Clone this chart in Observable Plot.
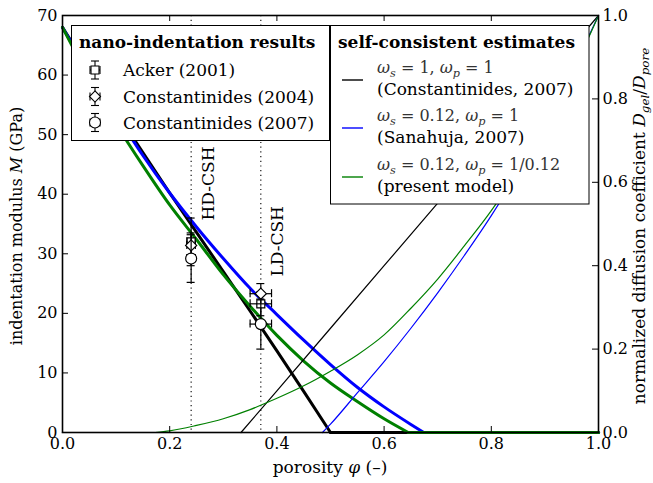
<!DOCTYPE html>
<html><head><meta charset="utf-8">
<script src="https://cdn.jsdelivr.net/npm/d3@7"></script>
<script src="https://cdn.jsdelivr.net/npm/@observablehq/plot@0.6"></script>
<style>body{margin:0;background:#fff} svg{display:block}</style>
</head><body><div id="chart"></div>
<script>
// ---- data ----
// thick curves: indentation modulus M (GPa), left axis
const phiBlackM = [0,0.05,0.1,0.15,0.2,0.25,0.3,0.35,0.4,0.45,0.5,1.0];
const mBlack    = [68,60.8,53.8,47,40.2,33.6,27,20.4,13.7,6.9,0,0];
const phiBlueM  = [0,0.05,0.1,0.15,0.2,0.25,0.3,0.35,0.4,0.45,0.5,0.55,0.6,0.65,0.674,1.0];
const mBlue     = [68,60.5,53.5,46.5,40.2,34.5,29.2,24.2,19.8,15.5,11.4,7.6,4.3,1.35,0,0];
const phiGreenM = [0,0.05,0.1,0.15,0.2,0.25,0.3,0.35,0.4,0.45,0.5,0.55,0.6,0.645,1.0];
const mGreen    = [68,59.5,51.8,44.8,38.2,32.4,26.5,21.2,16.3,12.0,8.3,5.2,2.3,0,0];
// thin curves: normalized diffusion coefficient, right axis (0..1)
const phiBlackD = [0,0.333,0.4,0.5,0.6,0.7,0.8,0.9,1.0];
const dBlack    = [0,0,0.1,0.25,0.4,0.55,0.7,0.85,1.0];
const phiBlueD  = [0,0.485,0.5,0.55,0.6,0.65,0.7,0.75,0.8,0.85,0.9,0.95,1.0];
const dBlue     = [0,0,0.02,0.095,0.17,0.25,0.335,0.425,0.52,0.625,0.74,0.865,1.0];
const phiGreenD = [0,0.173,0.2,0.25,0.3,0.35,0.4,0.45,0.5,0.55,0.6,0.65,0.7,0.75,0.8,0.85,0.9,0.95,1.0];
const dGreen    = [0,0,0.004,0.017,0.033,0.055,0.082,0.112,0.147,0.186,0.234,0.298,0.368,0.448,0.532,0.628,0.738,0.86,1.0];
// nano-indentation results (HD, LD)
const studies   = ["Acker (2001)","Constantinides (2004)","Constantinides (2007)"];
const ptPhi     = [0.24, 0.37];
const ptErrPhi  = [0.008, 0.02];
const mAcker    = [32.0, 21.6]; const eAcker = [4.0, 2.0];
const mC2004    = [31.4, 23.3]; const eC2004 = [2.1, 1.7];
const mC2007    = [29.2, 18.2]; const eC2007 = [4.0, 4.2];
// phase markers
const cshPhi    = [0.24, 0.37];
const cshLabel  = ["HD-CSH","LD-CSH"];
const cshLabelM = [41.8, 32.1];
// ticks
const xTicks  = [0,0.2,0.4,0.6,0.8,1.0];
const yTicks  = [0,10,20,30,40,50,60,70];
const y2Ticks = [0,0.2,0.4,0.6,0.8,1.0];
const Y2 = 70; // right axis 0..1 spans left axis 0..70

const FONT = "'DejaVu Serif', 'Liberation Serif', serif";
const symbolsOf = ["square","diamond2","circle"];
const rOf = [4.5,5,5.5];
const ptSets = [[mAcker,eAcker],[mC2004,eC2004],[mC2007,eC2007]];

function ptMarks(k){
  const [m,e] = ptSets[k];
  const rows = ptPhi.map((p,i)=>({phi:p, M:m[i], e:e[i], ep:ptErrPhi[i]}));
  const s = {stroke:"black", strokeWidth:1.2};
  return [
    Plot.ruleX(rows,{x:"phi", y1:d=>d.M-d.e, y2:d=>d.M+d.e, ...s}),
    Plot.ruleY(rows,{y:d=>d.M-d.e, x1:"phi", x2:"phi", insetLeft:-4, insetRight:-4, ...s}),
    Plot.ruleY(rows,{y:d=>d.M+d.e, x1:"phi", x2:"phi", insetLeft:-4, insetRight:-4, ...s}),
    Plot.ruleY(rows,{y:"M", x1:d=>d.phi-d.ep, x2:d=>d.phi+d.ep, ...s}),
    Plot.ruleX(rows,{x:d=>d.phi-d.ep, y1:"M", y2:"M", insetTop:-4, insetBottom:-4, ...s}),
    Plot.ruleX(rows,{x:d=>d.phi+d.ep, y1:"M", y2:"M", insetTop:-4, insetBottom:-4, ...s}),
    Plot.dot(rows,{x:"phi", y:"M", symbol:()=>symbolsOf[k], r:rOf[k], fill:"white", ...s})
  ];
}
// split a curve into its smooth part and its flat (zero) part
function curveMarks(px, py, color, width, descending, smooth){
  const cut = descending ? py.indexOf(0) : py.lastIndexOf(0);
  const a = descending ? [0, cut+1] : [cut, px.length];
  const b = descending ? [cut, px.length] : [0, cut+1];
  return [
    Plot.line(px.slice(b[0],b[1]),{x:px.slice(b[0],b[1]), y:py.slice(b[0],b[1]), stroke:color, strokeWidth:width}),
    Plot.line(px.slice(a[0],a[1]),{x:px.slice(a[0],a[1]), y:py.slice(a[0],a[1]), stroke:color, strokeWidth:width, curve: smooth ? "monotone-x" : "linear"})
  ];
}

const chart = Plot.plot({
  width:653, height:483,
  marginLeft:62, marginRight:55, marginTop:15, marginBottom:51,
  x:{domain:[0,1]}, y:{domain:[0,70]},
  symbol:{type:"identity"},
  style:{fontFamily:FONT, fontSize:"16px", color:"black", background:"white"},
  marks:[
    Plot.ruleX(cshPhi,{x:d=>d, stroke:"black", strokeWidth:1.1, strokeDasharray:"1.2,3.5"}),
    ...curveMarks(phiBlackM, mBlack, "black", 3, true, false),
    ...curveMarks(phiBlueM, mBlue, "#0000ff", 3, true, true),
    ...curveMarks(phiGreenM, mGreen, "#008000", 3, true, true),
    ...curveMarks(phiBlackD, dBlack.map(d=>d*Y2), "black", 1.2, false, false),
    ...curveMarks(phiBlueD, dBlue.map(d=>d*Y2), "#0000ff", 1.2, false, true),
    ...curveMarks(phiGreenD, dGreen.map(d=>d*Y2), "#008000", 1.2, false, true),
    Plot.text(cshLabel,{x:cshPhi, y:cshLabelM, text:cshLabel, rotate:-90, dx:17, fontSize:17, textAnchor:"middle", lineAnchor:"middle", fill:"black"}),
    ...ptMarks(0), ...ptMarks(1), ...ptMarks(2),
    // inward ticks
    Plot.ruleY(yTicks.slice(1,-1),{y:d=>d, x1:0, x2:0, insetRight:-6, stroke:"black"}),
    Plot.ruleY(y2Ticks.slice(1,-1).map(d=>d*Y2),{y:d=>d, x1:1, x2:1, insetLeft:-6, stroke:"black"}),
    Plot.ruleX(xTicks.slice(1,-1),{x:d=>d, y1:0, y2:0, insetTop:-6, stroke:"black"}),
    Plot.ruleX(xTicks.slice(1,-1),{x:d=>d, y1:70, y2:70, insetBottom:-6, stroke:"black"}),
    Plot.axisX({ticks:xTicks, tickFormat:d=>d.toFixed(1), tickSize:0, tickPadding:5, fontSize:16, label:null}),
    Plot.axisY({anchor:"left", ticks:yTicks, tickFormat:d=>String(d), tickSize:0, tickPadding:5, fontSize:16, label:null}),
    Plot.axisY({anchor:"right", ticks:y2Ticks.map(d=>d*Y2), tickFormat:d=>(d/Y2).toFixed(1), tickSize:0, tickPadding:4, fontSize:16, label:null}),
    Plot.frame({stroke:"black", strokeWidth:1.6})
  ]
});
document.getElementById("chart").appendChild(chart);

// ---- legends & axis titles ----
const svg = d3.select(chart);
const g = svg.append("g").style("font-family", FONT).attr("fill","black").attr("text-anchor","start");

function txt(sel, x, y, size, s){
  return sel.append("text").attr("x",x).attr("y",y).attr("font-size",size).style("font-family",FONT).attr("fill","black").attr("text-anchor","start").text(s);
}
function rich(sel, x, y, parts, size, fill, anchor){
  const t = sel.append("text").attr("x",x).attr("y",y).attr("font-size",size).attr("fill",fill||"black")
    .style("font-family",FONT).attr("text-anchor", anchor || "start");
  let shifted = false;
  parts.forEach(p=>{
    const ts = t.append("tspan").text(p.t);
    if (p.i) ts.attr("font-style","italic");
    if (p.sub){ ts.attr("font-size", size*0.7); if(!shifted){ ts.attr("dy", size*0.25); shifted=true; } }
    else if (shifted){ ts.attr("dy", -size*0.25); shifted=false; }
  });
  return t;
}

// legend 1
g.append("rect").attr("x",71.5).attr("y",25.5).attr("width",258).attr("height",115).attr("fill","white").attr("stroke","black");
txt(g,79,48,17,"nano-indentation results").attr("font-weight","bold");
const legY = [70,96.5,122.5];
studies.forEach((s,k)=>{
  const cx = 95, cy = legY[k];
  const lg = g.append("g").attr("stroke","black").attr("stroke-width",1.1).attr("fill","none");
  lg.append("line").attr("x1",cx-5).attr("x2",cx+5).attr("y1",cy).attr("y2",cy);
  lg.append("line").attr("x1",cx-5).attr("x2",cx-5).attr("y1",cy-4).attr("y2",cy+4);
  lg.append("line").attr("x1",cx+5).attr("x2",cx+5).attr("y1",cy-4).attr("y2",cy+4);
  lg.append("line").attr("x1",cx).attr("x2",cx).attr("y1",cy-9).attr("y2",cy+9);
  lg.append("line").attr("x1",cx-4).attr("x2",cx+4).attr("y1",cy-9).attr("y2",cy-9);
  lg.append("line").attr("x1",cx-4).attr("x2",cx+4).attr("y1",cy+9).attr("y2",cy+9);
  const sym = [d3.symbolSquare, d3.symbolDiamond2, d3.symbolCircle][k];
  lg.append("path").attr("transform",`translate(${cx},${cy})`).attr("d", d3.symbol(sym, Math.PI*rOf[k]*rOf[k])()).attr("fill","white");
  txt(g,123,cy+6,17,s);
});

// legend 2
g.append("rect").attr("x",330.5).attr("y",25.5).attr("width",258.5).attr("height",178.5).attr("fill","white").attr("stroke","black");
txt(g,338,48,17,"self-consistent estimates").attr("font-weight","bold");
const l2 = [
  {c:"black", y:80, math:[{t:"ω",i:1},{t:"s",i:1,sub:1},{t:" = 1, "},{t:"ω",i:1},{t:"p",i:1,sub:1},{t:" = 1"}], txt:"(Constantinides, 2007)"},
  {c:"#0000ff", y:128, math:[{t:"ω",i:1},{t:"s",i:1,sub:1},{t:" = 0.12, "},{t:"ω",i:1},{t:"p",i:1,sub:1},{t:" = 1"}], txt:"(Sanahuja, 2007)"},
  {c:"#008000", y:177, math:[{t:"ω",i:1},{t:"s",i:1,sub:1},{t:" = 0.12, "},{t:"ω",i:1},{t:"p",i:1,sub:1},{t:" = 1/0.12"}], txt:"(present model)"}
];
l2.forEach(e=>{
  g.append("line").attr("x1",342).attr("x2",363).attr("y1",e.y).attr("y2",e.y).attr("stroke",e.c).attr("stroke-width",1.4);
  rich(g, 377, e.y-7, e.math, 16, "#333");
  txt(g,377,e.y+15,17,e.txt);
});

// axis titles
rich(g, 0, 0, [{t:"indentation modulus "},{t:"M",i:1},{t:" (GPa)"}], 16, "black", "middle")
  .attr("transform","translate(22,226) rotate(-90)");
rich(g, 0, 0, [{t:"normalized diffusion coefficient "},{t:"D",i:1},{t:"gel",i:1,sub:1},{t:"/"},{t:"D",i:1},{t:"pore",i:1,sub:1}], 17, "black", "middle")
  .attr("transform","translate(645,226) rotate(-90)");
rich(g, 330, 473, [{t:"porosity "},{t:"φ",i:1},{t:" (–)"}], 17, "black", "middle");
</script></body></html>
